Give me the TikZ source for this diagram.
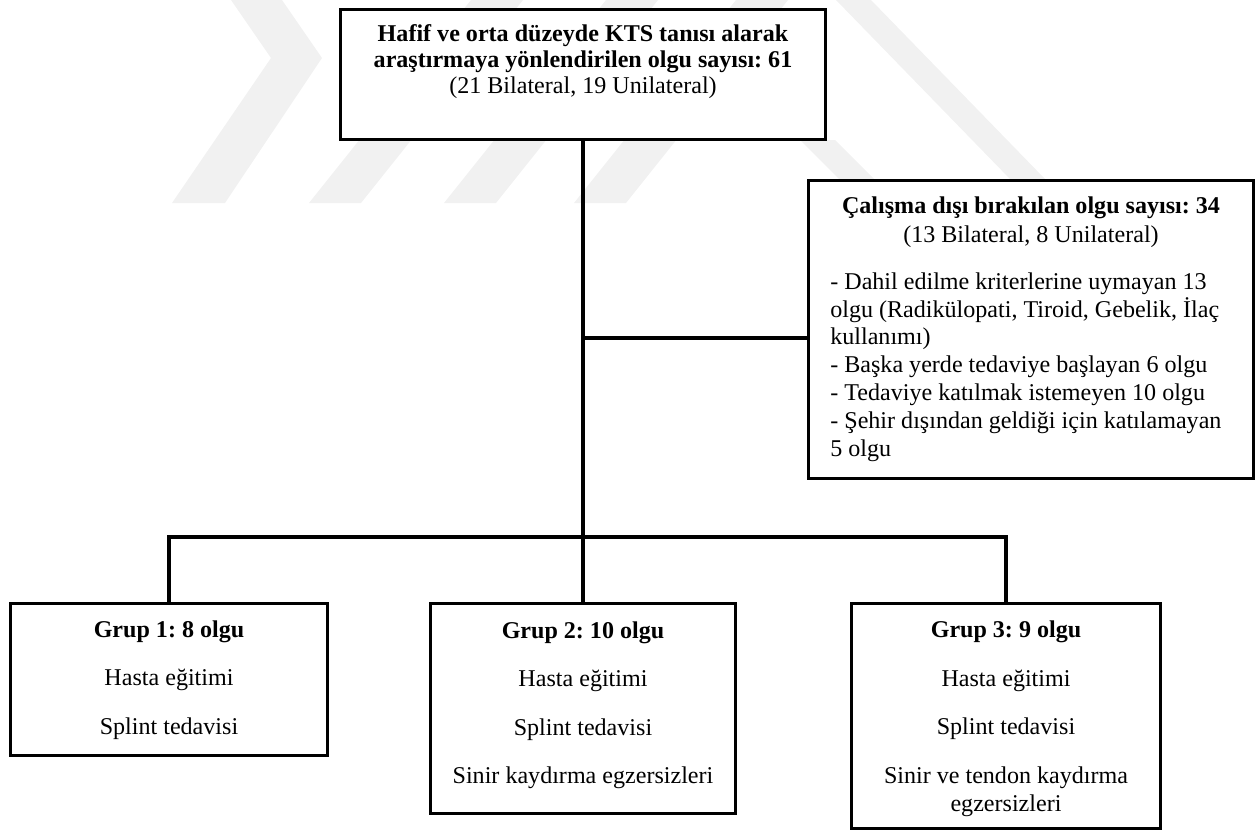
\documentclass[tikz,border=0pt]{standalone}
\usepackage{fontspec}
\setmainfont{Liberation Serif}
\usepackage{tikz}
\usetikzlibrary{positioning, calc}
\definecolor{wmk}{HTML}{F1F1F1}
\frenchspacing

\begin{document}
\begin{tikzpicture}[x=0.02cm, y=-0.02cm, line join=miter,
    box/.style={draw, fill=white, line width=1.7pt, inner sep=0pt},
    link/.style={line width=2pt},
    txt/.style={align=center, inner sep=0pt, font=\fontsize{13.7}{16}\selectfont}]
    \useasboundingbox (0,0) rectangle (1255,832);
    % faint watermark
    \fill[wmk] (231,0) -- (282,0) -- (322,58) -- (225,203) -- (172,203) -- (271,58) -- cycle;
    \foreach \s in {309,444,574}{
      \fill[wmk] (\s,203) -- (\s+52,203) -- (\s+214,0) -- (\s+162,0) -- cycle;
    }
    \fill[wmk] (836,0) -- (871,0) -- (1045,179) -- (1010,179) -- cycle;
    \fill[wmk] (800,140) -- (835,140) -- (874,179) -- (839,179) -- cycle;
    % boxes
    \node[box, minimum width=9.72cm, minimum height=2.62cm]
      (top) at (583,74.5) {};
    \node[box, minimum width=8.92cm, minimum height=5.98cm]
      (excl) at (1031,329.5) {};
    \node[box, minimum width=6.36cm, minimum height=3.06cm]
      (g1) at (169,679.5) {};
    \node[box, minimum width=6.10cm, minimum height=4.22cm]
      (g2) at (583,708.5) {};
    \node[box, minimum width=6.20cm, minimum height=4.52cm]
      (g3) at (1006,716) {};
    % texts
    \node[txt, font=\fontsize{13.7}{14.8}\selectfont] (topt) at (583,62)
      {\textbf{Hafif ve orta düzeyde KTS tanısı alarak}\\
       \textbf{araştırmaya yönlendirilen olgu sayısı: 61}\\
       (21 Bilateral, 19 Unilateral)};
    \node[txt, font=\fontsize{13.7}{16.5}\selectfont] (exclt) at (1031,222)
      {\textbf{Çalışma dışı bırakılan olgu sayısı: 34}\\
       (13 Bilateral, 8 Unilateral)};
    \node[txt, align=left, anchor=west, font=\fontsize{13.7}{15.8}\selectfont]
      (excll) at (830,367)
      {- Dahil edilme kriterlerine uymayan 13\\
       olgu (Radikülopati, Tiroid, Gebelik, İlaç\\
       kullanımı)\\
       - Başka yerde tedaviye başlayan 6 olgu\\
       - Tedaviye katılmak istemeyen 10 olgu\\
       - Şehir dışından geldiği için katılamayan\\
       5 olgu};
    \node[txt] (g1t) at (169,680)
      {\textbf{Grup 1: 8 olgu}\\[11.6pt]
       Hasta eğitimi\\[11.6pt]
       Splint tedavisi};
    \node[txt] (g2t) at (583,705)
      {\textbf{Grup 2: 10 olgu}\\[11.6pt]
       Hasta eğitimi\\[11.6pt]
       Splint tedavisi\\[11.6pt]
       Sinir kaydırma egzersizleri};
    \node[txt] (g3t) at (1006,719)
      {\textbf{Grup 3: 9 olgu}\\[11.6pt]
       Hasta eğitimi\\[11.6pt]
       Splint tedavisi\\[11.6pt]
       Sinir ve tendon kaydırma\\
       egzersizleri};
    % connectors
    \coordinate (split) at (583,338);
    \coordinate (bus) at (583,537);
    \draw[link] (top.south) -- (bus);
    \draw[link] (split) -- (split -| excl.west);
    \draw[link] (g1.north) -- (g1.north |- bus) -- (g3.north |- bus)
      -- (g3.north);
    \draw[link] (bus) -- (g2.north);
\end{tikzpicture}
\end{document}
